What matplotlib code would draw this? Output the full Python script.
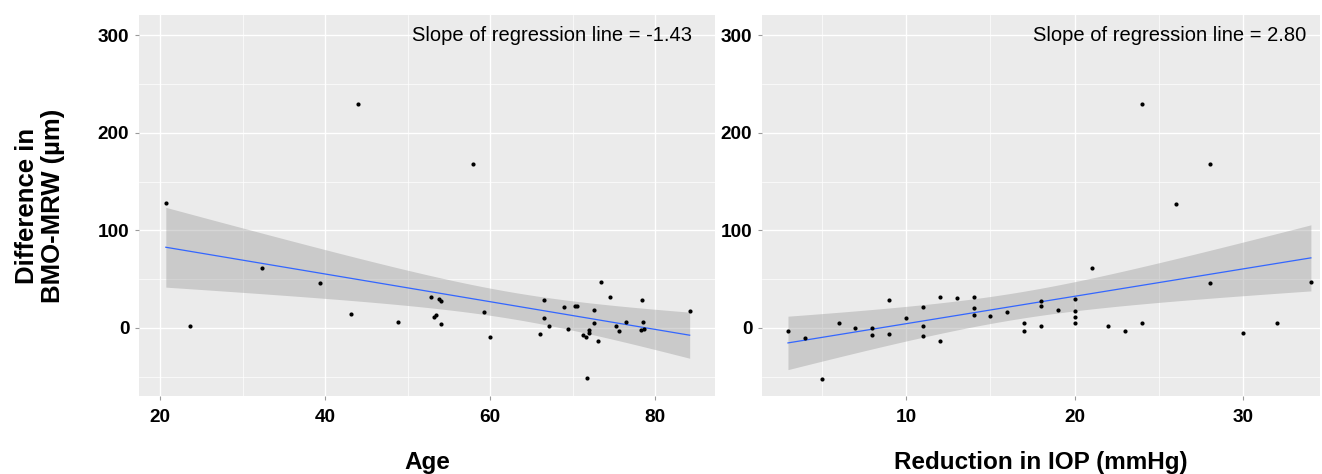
import numpy as np
import matplotlib
matplotlib.use("Agg")
import matplotlib.pyplot as plt
from matplotlib.ticker import FixedLocator

plt.rcParams['font.family'] = ['Liberation Sans', 'DejaVu Sans']

# left panel: age vs difference in BMO-MRW
age = [20.7, 23.6, 32.4, 39.4, 43.1, 44.0, 48.9, 52.8, 53.8, 54.0, 53.2, 53.4, 54.1, 57.9,
       59.3, 60.0, 66.0, 66.6, 66.5, 67.2, 69.0, 69.4, 70.3, 70.6, 71.3, 71.6, 72.0, 72.0,
       71.7, 72.65, 72.6, 73.1, 73.5, 74.6, 75.3, 75.6, 76.5, 78.4, 78.6, 78.3, 78.7, 84.2]
diffAge = [128, 2, 61, 46, 14, 230, 6, 32, 30, 27, 11, 13, 4, 168,
           16, -9, -6, 29, 10, 2, 21, -1, 22, 22, -7, -9, -2, -5,
           -52, 18, 5, -14, 47, 32, 2, -3, 6, 29, 6, -2, -1, 17]

# right panel: reduction in IOP vs difference in BMO-MRW
iop = [3, 4, 5, 6, 7, 8, 8, 9, 9, 10, 11, 11, 11, 12, 12, 13, 14, 14, 14, 15, 16,
       17, 17, 18, 18, 18, 19, 20, 20, 20, 20, 21, 22, 23, 24, 24, 26, 28, 28, 30, 32, 34]
diffIop = [-3, -10, -53, 5, 0, 0, -7, 29, -6, 10, 21, 2, -8, 32, -14, 31, 32, 20, 13, 12, 16,
           5, -3, 27, 22, 2, 18, 30, 17, 11, 5, 61, 2, -3, 5, 230, 127, 46, 168, -5, 5, 47]

slopeLabels = ["Slope of regression line = -1.43", "Slope of regression line = 2.80"]
xLabels = ["Age", "Reduction in IOP (mmHg)"]
xTicks = [[20, 40, 60, 80], [10, 20, 30]]
xMinor = [[30, 50, 70], [5, 15, 25]]
xLims = [(17.45, 87.27), (1.46, 34.54)]
labelX = [67.5, 25.6]

T975 = 2.021  # t quantile, 95%, df = 40


def lmBand(x, y, grid):
	"""Linear fit with 95% confidence band, like geom_smooth(method='lm')."""
	x = np.asarray(x, float)
	y = np.asarray(y, float)
	n = len(x)
	b, a = np.polyfit(x, y, 1)
	resid = y - (a + b * x)
	s = np.sqrt(np.sum(resid ** 2) / (n - 2))
	sxx = np.sum((x - x.mean()) ** 2)
	fit = a + b * grid
	se = s * np.sqrt(1.0 / n + (grid - x.mean()) ** 2 / sxx)
	return fit, fit - T975 * se, fit + T975 * se


fig = plt.figure(figsize=(13.22, 4.74), dpi=100)
axL = fig.add_axes([139 / 1322, 1 - 396 / 474, 576 / 1322, 381 / 474])
axR = fig.add_axes([762 / 1322, 1 - 396 / 474, 558 / 1322, 381 / 474])

for i, (ax, xs, ys) in enumerate([(axL, age, diffAge), (axR, iop, diffIop)]):
	ax.set_facecolor("#EBEBEB")
	for sp in ax.spines.values():
		sp.set_visible(False)
	ax.set_xlim(*xLims[i])
	ax.set_ylim(-70, 321)
	ax.xaxis.set_major_locator(FixedLocator(xTicks[i]))
	ax.xaxis.set_minor_locator(FixedLocator(xMinor[i]))
	ax.yaxis.set_major_locator(FixedLocator([0, 100, 200, 300]))
	ax.yaxis.set_minor_locator(FixedLocator([-50, 50, 150, 250]))
	ax.grid(which="major", color="white", linewidth=1.0)
	ax.grid(which="minor", color="white", linewidth=0.5)
	ax.set_axisbelow(True)
	ax.tick_params(which="major", length=3, width=0.8, color="#9A9A9A", labelsize=13.7, pad=4)
	ax.tick_params(axis="x", which="major", pad=6)
	ax.tick_params(which="minor", length=0)
	for t in ax.get_xticklabels() + ax.get_yticklabels():
		t.set_fontweight("bold")
		t.set_color("black")

	grid = np.linspace(min(xs), max(xs), 80)
	fit, lo, hi = lmBand(xs, ys, grid)
	ax.fill_between(grid, lo, hi, color="#999999", alpha=0.4, linewidth=0, zorder=2)
	ax.plot(grid, fit, color="#3366FF", linewidth=0.9, zorder=3)
	ax.scatter(xs, ys, s=9, color="black", linewidths=0, zorder=4)

	ax.text(labelX[i], 300, slopeLabels[i], ha="center", va="center", fontsize=14.5)

	pos = ax.get_position()
	fig.text((pos.x0 + pos.x1) / 2, 1 - 469 / 474, xLabels[i], ha="center", va="baseline",
	         fontsize=17.5, fontweight="bold")

fig.text(40 / 1322, 1 - 206 / 474, "Difference in\nBMO-MRW (\u00b5m)", rotation=90,
         ha="center", va="center", fontsize=18.5, fontweight="bold", multialignment="center",
         linespacing=1.1)

fig.savefig("out.png", dpi=100)
